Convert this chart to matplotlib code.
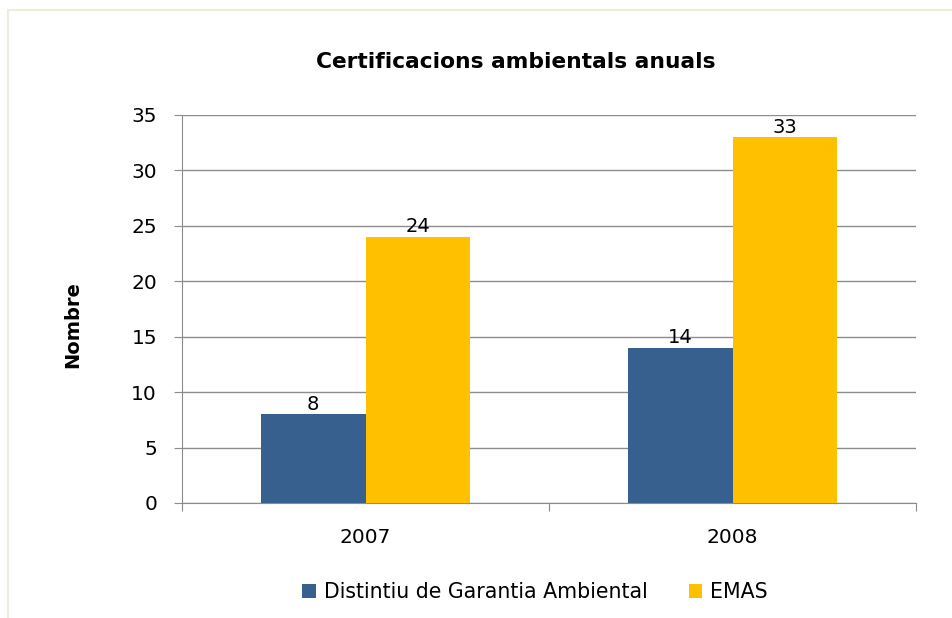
import matplotlib
matplotlib.use("Agg")
import matplotlib.pyplot as plt
import numpy as np
from matplotlib.patches import Rectangle

plt.rcParams['font.family'] = ['DejaVu Sans']

# data
years = ['2007', '2008']
dga = [8, 14]
emas = [24, 33]
series_names = ['Distintiu de Garantia Ambiental', 'EMAS']

fig = plt.figure(figsize=(9.52, 6.18), dpi=100)
# light frame round the chart
fig.patches.append(Rectangle((8 / 952, -0.05), 1.2, 1 - 10 / 618 + 0.05,
                             transform=fig.transFigure, fill=False,
                             edgecolor='#EEEEDD', linewidth=1.5))

ax = fig.add_axes([182 / 952, 1 - 503 / 618, (916 - 182) / 952, (503 - 115) / 618])

x = np.arange(len(years))
w = 0.285
b1 = ax.bar(x - w / 2, dga, w, color='#37608F', label=series_names[0], zorder=3)
b2 = ax.bar(x + w / 2, emas, w, color='#FFC000', label=series_names[1], zorder=3)

for bars in (b1, b2):
    for r in bars:
        ax.text(r.get_x() + r.get_width() / 2, r.get_height() + 0.05, str(int(r.get_height())),
                ha='center', va='bottom', fontsize=14, color='black')

ax.set_xlim(-0.5, 1.5)
ax.set_ylim(0, 35)
ax.set_yticks(range(0, 36, 5))
ax.yaxis.grid(True, color='#8C8C8C', linewidth=1, zorder=0)
ax.set_xticks([-0.5, 0.5, 1.5], minor=False)
ax.set_xticklabels([])
ax.set_xticks(x, minor=True)
ax.set_xticklabels(years, minor=True)
ax.tick_params(axis='x', which='minor', length=0, pad=18, labelsize=14.5)
ax.tick_params(axis='x', which='major', length=6, color='#8C8C8C')
ax.tick_params(axis='y', length=6, color='#8C8C8C', labelsize=14.5, pad=12)

for s in ['top', 'right']:
    ax.spines[s].set_visible(False)
ax.spines['left'].set_color('#8C8C8C')
ax.spines['bottom'].set_color('#8C8C8C')

fig.text(516 / 952, 1 - 62 / 618, 'Certificacions ambientals anuals', ha='center', va='center',
         fontsize=15.7, fontweight='bold')
fig.text(73 / 952, 1 - 325 / 618, 'Nombre', rotation=90, ha='center', va='center',
         fontsize=14, fontweight='bold')

fig.legend(handles=[b1, b2], loc='center', bbox_to_anchor=(535 / 952, 1 - 592 / 618),
           ncol=2, frameon=False, fontsize=14.8, handlelength=0.65, handleheight=0.65,
           handletextpad=0.4, columnspacing=2.0)

fig.savefig('out.png', dpi=100)
